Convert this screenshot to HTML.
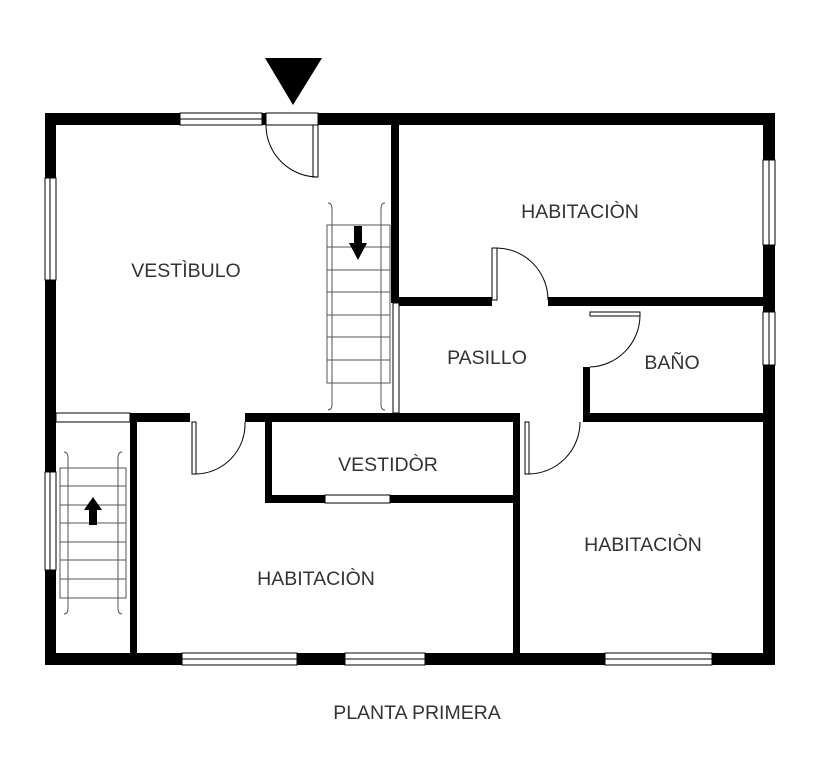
<!DOCTYPE html>
<html><head><meta charset="utf-8"><style>body{margin:0;background:#fff}svg{display:block}text{font-family:"Liberation Sans",sans-serif;font-size:19.5px;fill:#333;text-anchor:middle}</style></head><body>
<svg width="816" height="768" viewBox="0 0 816 768">
<rect x="0" y="0" width="816" height="768" fill="#fff"/>
<polygon points="265,58 322,58 293,105" fill="#000"/>
<g fill="#000">
<rect x="45" y="113" width="135" height="12"/>
<rect x="262" y="113" width="4" height="12"/>
<rect x="318" y="113" width="457" height="12"/>
<rect x="45" y="113" width="11" height="552"/>
<rect x="763" y="113" width="12" height="552"/>
<rect x="45" y="653" width="137" height="12"/>
<rect x="297" y="653" width="48" height="12"/>
<rect x="425" y="653" width="180" height="12"/>
<rect x="712" y="653" width="63" height="12"/>
<rect x="391" y="125" width="8" height="178"/>
<rect x="399" y="297" width="93" height="9"/>
<rect x="548" y="297" width="215" height="9"/>
<rect x="583" y="367" width="7" height="55"/>
<rect x="583" y="413" width="180" height="9"/>
<rect x="130" y="413" width="60" height="9"/>
<rect x="245" y="413" width="275" height="9"/>
<rect x="130" y="413" width="7" height="240"/>
<rect x="265" y="413" width="7" height="90"/>
<rect x="265" y="495" width="60" height="8"/>
<rect x="390" y="495" width="130" height="8"/>
<rect x="513" y="413" width="7" height="240"/>
</g>
<g fill="#fff" stroke="#000" stroke-width="1">
<rect x="45" y="178" width="11" height="102"/>
<rect x="45" y="472" width="11" height="98"/>
<rect x="763" y="160" width="12" height="85"/>
<rect x="763" y="312" width="12" height="53"/>
<rect x="180" y="113" width="82" height="12"/>
<rect x="182" y="653" width="115" height="12"/>
<rect x="345" y="653" width="80" height="12"/>
<rect x="605" y="653" width="107" height="12"/>
<rect x="325" y="495" width="65" height="8"/>
<rect x="56" y="413" width="74" height="9"/>
<rect x="393" y="303" width="6" height="110"/>
</g>
<g stroke="#000" stroke-width="1">
<line x1="180" y1="119" x2="262" y2="119"/><line x1="182" y1="659" x2="297" y2="659"/>
<line x1="345" y1="659" x2="425" y2="659"/><line x1="605" y1="659" x2="712" y2="659"/>
<line x1="50" y1="178" x2="50" y2="280"/><line x1="50" y1="472" x2="50" y2="570"/>
<line x1="769" y1="160" x2="769" y2="245"/><line x1="769" y1="312" x2="769" y2="365"/>
</g>
<g fill="none" stroke="#000" stroke-width="1">
<rect x="266" y="113" width="52" height="12" fill="#fff"/>
<rect x="313" y="125" width="5" height="52"/><path d="M266,125 A52,52 0 0 0 318,177"/>
<rect x="492" y="248" width="5" height="52"/><path d="M497,248 A52,52 0 0 1 548,300"/>
<rect x="590" y="312" width="50" height="4"/><path d="M640,316 A52,52 0 0 1 590,367"/>
<rect x="192" y="422" width="4" height="52"/><path d="M196,474 A50,50 0 0 0 245,422"/>
<rect x="525" y="422" width="4" height="52"/><path d="M529,474 A52,52 0 0 0 580,422"/>
</g>
<g fill="none" stroke="#555" stroke-width="1">
<path d="M328,203 q4,0 4,6 v195 q0,6 -4,6"/><path d="M385,203 q-4,0 -4,6 v195 q0,6 4,6"/>
<rect x="327" y="225" width="63" height="158"/>
<line x1="327" y1="247" x2="390" y2="247"/><line x1="327" y1="270" x2="390" y2="270"/>
<line x1="327" y1="292" x2="390" y2="292"/><line x1="327" y1="315" x2="390" y2="315"/>
<line x1="327" y1="337" x2="390" y2="337"/><line x1="327" y1="360" x2="390" y2="360"/>
<path d="M64,452 q4,0 4,6 v150 q0,6 -4,6"/><path d="M122,452 q-4,0 -4,6 v150 q0,6 4,6"/>
<rect x="60" y="468" width="66" height="130"/>
<line x1="60" y1="486" x2="126" y2="486"/><line x1="60" y1="505" x2="126" y2="505"/>
<line x1="60" y1="523" x2="126" y2="523"/><line x1="60" y1="542" x2="126" y2="542"/>
<line x1="60" y1="560" x2="126" y2="560"/><line x1="60" y1="579" x2="126" y2="579"/>
</g>
<polygon points="354,226 362,226 362,243 367,243 358,260 349,243 354,243" fill="#000"/>
<polygon points="89,525 97,525 97,510 102,510 93,497 84,510 89,510" fill="#000"/>
<text x="186" y="277">VESTÌBULO</text>
<text x="580" y="218">HABITACIÒN</text>
<text x="487" y="364">PASILLO</text>
<text x="672" y="369">BAÑO</text>
<text x="388" y="471">VESTIDÒR</text>
<text x="643" y="551">HABITACIÒN</text>
<text x="316" y="585">HABITACIÒN</text>
<text x="417" y="719">PLANTA PRIMERA</text>
</svg>
</body></html>
